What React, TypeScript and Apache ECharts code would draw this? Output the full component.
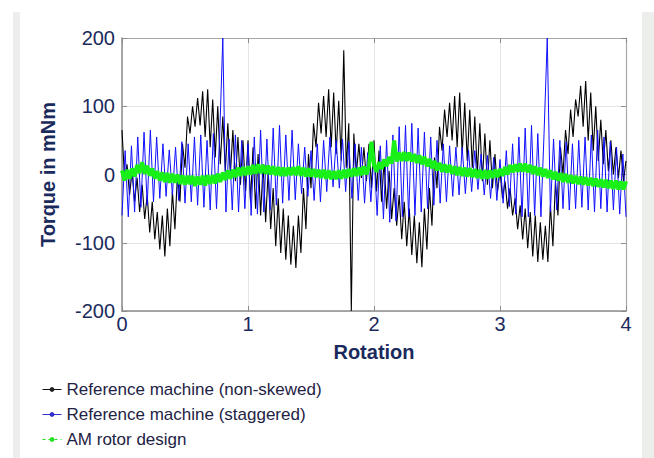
import React, { useEffect, useRef } from 'react';
import * as echarts from 'echarts';

// ---- data ----
const xTicks = [0, 1, 2, 3, 4];
const yTicks = [-200, -100, 0, 100, 200];
const seriesNames = [
  'Reference machine (non-skewed)',
  'Reference machine (staggered)',
  'AM rotor design',
];

// sampling grid (rotations between consecutive samples)
const blackStep = 0.02;
const blueStep = 0.025;
const greenStep = 0.02;

// torque in mNm
const blackTorque = [
  65, -5, 15, -30, 5, -40, -5, -55, -15, -65,
  -30, -85, -40, -95, -55, -110, -60, -120, -50, -105,
  -25, -80, 0, -40, 45, 10, 85, 60, 100, 70,
  112, 72, 122, 55, 125, 40, 110, 25, 100, 15,
  85, 5, 75, 0, 65, -10, 55, -15, 50, -25,
  50, -40, 40, -50, 30, -60, 15, -70, 5, -80,
  -20, -105, -35, -115, -50, -125, -60, -132, -75, -137,
  -60, -115, -20, -80, 30, -20, 75, 40, 105, 60,
  115, 55, 125, 40, 120, 30, 108, 20, 182, 10,
  75, -200, 60, 0, 45, -5, 40, -10, 45, -20,
  50, -25, 35, -40, 20, -50, 5, -65, -20, -75,
  -30, -95, -40, -105, -50, -118, -60, -130, -70, -136,
  -50, -110, -20, -75, 25, -20, 70, 35, 95, 55,
  105, 50, 115, 40, 120, 30, 105, 20, 95, 10,
  85, 0, 75, -10, 60, -15, 50, -20, 30, -25,
  5, -35, -10, -50, -20, -60, -35, -80, -45, -95,
  -50, -108, -55, -120, -60, -128, -70, -125, -75, -128,
  -45, -105, -10, -60, 40, 0, 65, 30, 95, 55,
  110, 85, 130, 70, 137, 50, 120, 35, 100, 20,
  80, 15, 65, 5, 50, 0, 40, -5, 35, -10,
  20,
];

const blueTorque = [
  -60, 35, -62, 42, -55, 55, -48, 62, -45, 65,
  -40, 55, -35, 45, -32, 36, -30, 40, -38, 48,
  -42, 45, -40, 55, -45, 58, -48, 50, -52, 60,
  -50, 55, 200, -55, 52, -52, 58, -55, 50, -50,
  45, -60, 55, -58, 65, -55, 52, -52, 68, -45,
  72, -42, 58, -38, 65, -37, 45, -28, 40, -32,
  35, -38, 45, -40, 50, -25, 55, -18, 50, -20,
  52, -25, 48, -35, 45, -38, 40, -42, 32, -40,
  30, -60, 42, -65, 50, -70, 58, -68, 70, -62,
  72, -62, 75, -60, 68, -55, 62, -50, 55, -45,
  50, -42, 45, -40, 42, -32, 40, -30, 40, -28,
  36, -25, 35, -22, 30, -30, 28, -35, 25, -38,
  22, -42, 35, -47, 45, -58, 55, -62, 68, -62,
  72, -60, 60, -62, 62, 200, -55, 52, -52, 50,
  -50, 48, -52, 45, -50, 50, -48, 55, -52, 58,
  -55, 65, -50, 55, -55, 48, -52, 40, -58, 30,
  -62,
];

const greenTorque = [
  6, -9, 7, -6, 9, -3, 14, 2, 18, 1,
  13, -2, 9, -6, 5, -9, 3, -11, 2, -12,
  1, -12, 0, -14, -1, -15, -2, -14, -2, -17,
  -3, -15, -2, -16, -1, -14, -1, -13, 1, -11,
  3, -8, 6, -6, 7, -4, 10, -2, 11, -1,
  12, 0, 14, 1, 15, 2, 14, 1, 13, 0,
  12, -1, 11, -2, 10, -2, 10, -1, 11, -1,
  12, -2, 10, -3, 9, -3, 8, -4, 7, -5,
  7, -6, 6, -7, 5, -7, 6, -6, 7, -5,
  8, -3, 9, -2, 10, -1, 12, 0, 13, 48,
  14, 4, 18, 8, 22, 12, 26, 16, 50, 19,
  32, 20, 33, 20, 32, 19, 30, 17, 28, 15,
  26, 12, 23, 9, 20, 6, 17, 4, 15, 3,
  14, 1, 12, -1, 11, -2, 10, -3, 9, -4,
  8, -5, 7, -6, 6, -6, 6, -5, 7, -4,
  8, -2, 11, 0, 14, 3, 15, 4, 16, 4,
  16, 3, 14, 1, 12, -1, 10, -3, 8, -5,
  6, -7, 4, -9, 2, -11, 1, -12, -1, -13,
  -2, -14, -3, -15, -4, -16, -5, -17, -6, -18,
  -7, -19, -8, -20, -9, -21, -9, -22, -10, -22,
  -10,
];

const FONT = '"Liberation Sans", Arial, Helvetica, sans-serif';
const NAVY = '#1b2a5c';
const AXIS_GRAY = '#8c8c8c';

const toPairs = (vals: number[], step: number) => vals.map((v, i) => [+(i * step).toFixed(4), v]);

export default function App() {
  const ref = useRef<HTMLDivElement>(null);

  useEffect(() => {
    if (!ref.current) return;
    const chart = echarts.init(ref.current, null, { renderer: 'svg' });
    const xMin = xTicks[0];
    const xMax = xTicks[xTicks.length - 1];
    const yMin = yTicks[0];
    const yMax = yTicks[yTicks.length - 1];
    const baseAxis = {
      axisLine: { show: true, onZero: false, lineStyle: { color: AXIS_GRAY, width: 1.5 } },
      axisTick: { show: true, inside: true, length: 5, lineStyle: { color: AXIS_GRAY, width: 1 } },
    };
    chart.setOption({
      animation: false,
      backgroundColor: '#ffffff',
      graphic: [
        { type: 'rect', left: 13, top: 12, shape: { width: 7, height: 446 }, style: { fill: '#eceeec' }, z: -1 },
        { type: 'rect', left: 642, top: 12, shape: { width: 12, height: 446 }, style: { fill: '#eceeec' }, z: -1 },
      ],
      grid: { left: 122, top: 38, width: 504, height: 273 },
      xAxis: [
        {
          type: 'value', min: xMin, max: xMax, interval: 1, position: 'bottom',
          name: 'Rotation', nameLocation: 'middle', nameGap: 31,
          nameTextStyle: { fontFamily: FONT, fontSize: 20, fontWeight: 'bold', color: NAVY },
          ...baseAxis,
          axisLabel: { fontFamily: FONT, fontSize: 20, color: NAVY, margin: 3 },
          splitLine: { show: true, lineStyle: { color: '#e4e4e4', width: 1 } },
        },
        {
          type: 'value', min: xMin, max: xMax, interval: 1, position: 'top',
          ...baseAxis,
          axisLine: { show: true, onZero: false, lineStyle: { color: '#a8a8a8', width: 1.2 } },
          axisLabel: { show: false },
          splitLine: { show: false },
        },
      ],
      yAxis: [
        {
          type: 'value', min: yMin, max: yMax, interval: 100, position: 'left',
          name: 'Torque in mNm', nameLocation: 'middle', nameGap: 64, nameRotate: 90,
          nameTextStyle: { fontFamily: FONT, fontSize: 20, fontWeight: 'bold', color: NAVY },
          ...baseAxis,
          axisLabel: { fontFamily: FONT, fontSize: 20, color: NAVY, margin: 7 },
          splitLine: { show: true, lineStyle: { color: '#e4e4e4', width: 1 } },
        },
        {
          type: 'value', min: yMin, max: yMax, interval: 100, position: 'right',
          ...baseAxis,
          axisLine: { show: true, onZero: false, lineStyle: { color: '#a8a8a8', width: 1.2 } },
          axisLabel: { show: false },
          splitLine: { show: false },
        },
      ],
      legend: {
        orient: 'vertical', left: 37, top: 376,
        itemWidth: 19, itemHeight: 6, itemGap: 8,
        textStyle: { fontFamily: FONT, fontSize: 17, color: '#1e2244', lineHeight: 17 },
        data: [
          { name: seriesNames[0], lineStyle: { width: 1, color: '#111111' }, itemStyle: { color: '#222222' } },
          { name: seriesNames[1], lineStyle: { width: 1, color: '#3030d0' }, itemStyle: { color: '#3030d0' } },
          { name: seriesNames[2], lineStyle: { width: 1, type: [3, 3], color: '#22e022' }, itemStyle: { color: '#22e022' } },
        ],
      },
      series: [
        {
          name: seriesNames[0], type: 'line', xAxisIndex: 0, yAxisIndex: 0,
          data: toPairs(blackTorque, blackStep),
          symbol: 'circle', symbolSize: 4, showSymbol: false, silent: true,
          lineStyle: { color: '#000000', width: 1.1 }, itemStyle: { color: '#000000' }, z: 2,
        },
        {
          name: seriesNames[1], type: 'line', xAxisIndex: 0, yAxisIndex: 0,
          data: toPairs(blueTorque, blueStep),
          symbol: 'circle', symbolSize: 4, showSymbol: false, silent: true,
          lineStyle: { color: '#1010ff', width: 1 }, itemStyle: { color: '#1010ff' }, z: 3,
        },
        {
          name: seriesNames[2], type: 'line', xAxisIndex: 0, yAxisIndex: 0,
          data: toPairs(greenTorque, greenStep),
          symbol: 'circle', symbolSize: 4, showSymbol: false, silent: true,
          lineStyle: { color: '#18f018', width: 4 }, itemStyle: { color: '#18f018' }, z: 4,
        },
      ],
    });
    return () => chart.dispose();
  }, []);

  return <div ref={ref} style={{ position: 'fixed', left: 0, top: 0, width: 654, height: 458 }} />;
}
